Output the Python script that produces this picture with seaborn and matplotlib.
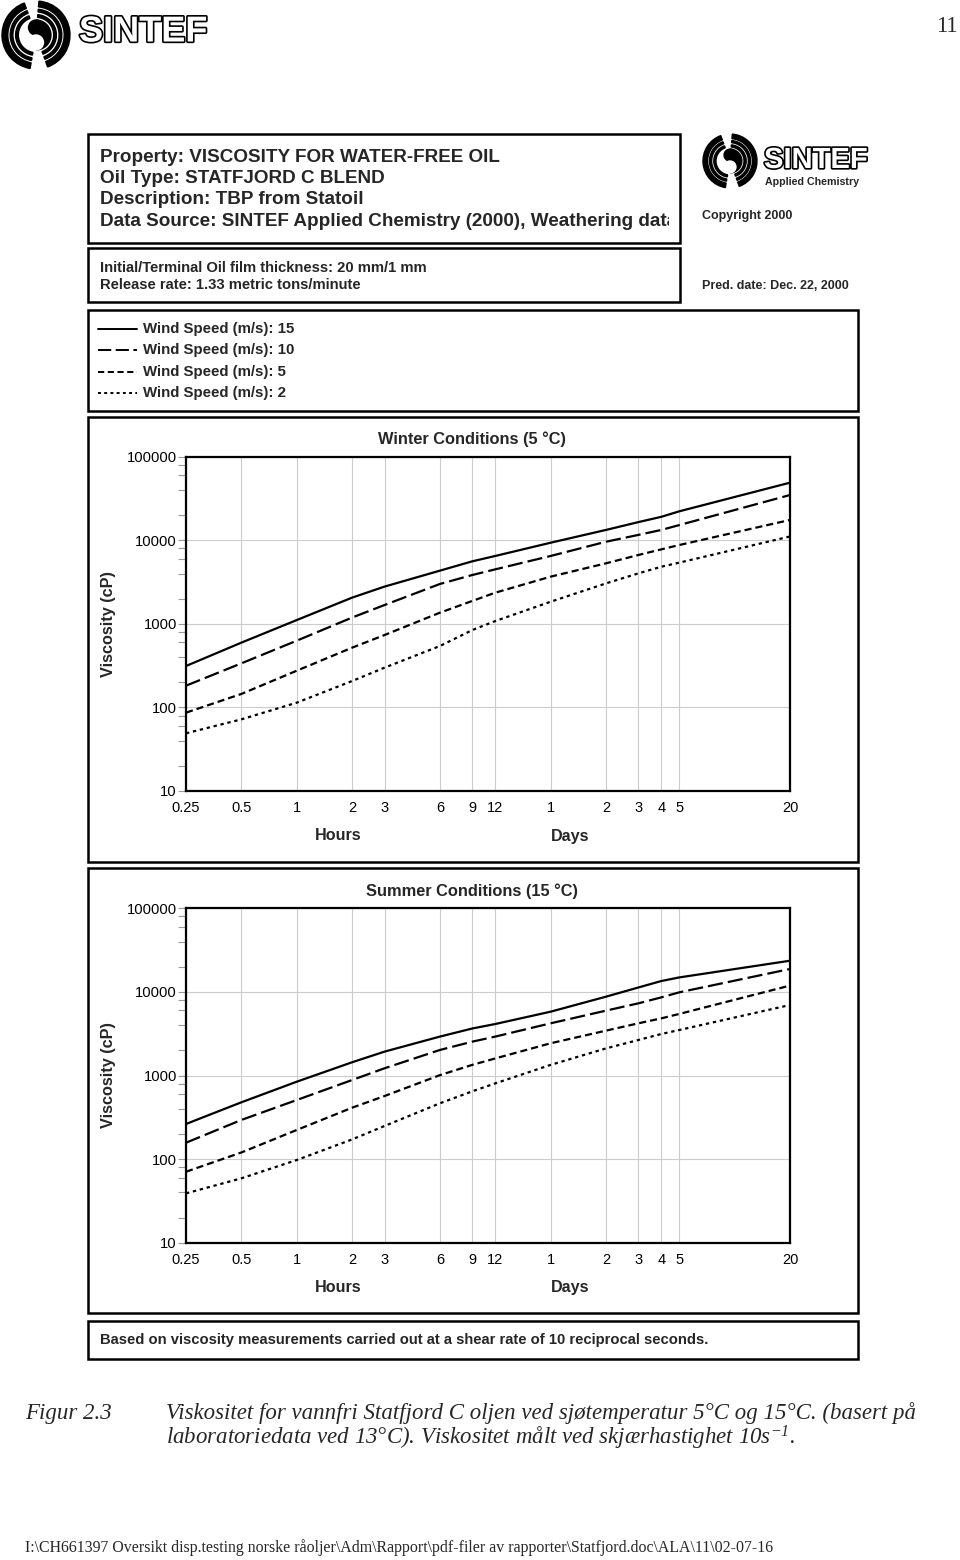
import matplotlib
matplotlib.use("Agg")
import matplotlib.pyplot as plt
import matplotlib.patheffects as pe
import pandas as pd
import seaborn as sns
from matplotlib import font_manager
from matplotlib.lines import Line2D
from matplotlib.patches import Rectangle, Wedge, Circle
from matplotlib.ticker import NullLocator, NullFormatter

# time axis (hours) and the tick labels used on it (hours, then days)
hours = [0.25, 0.5, 1, 2, 3, 6, 9, 12, 24, 48, 72, 96, 120, 480]
tick_hours = [0.25, 0.5, 1, 2, 3, 6, 9, 12, 24, 48, 72, 96, 120, 480]
tick_labels = ["0.25", "0.5", "1", "2", "3", "6", "9", "12", "1", "2", "3", "4", "5", "20"]
wind_speeds = [15, 10, 5, 2]

# viscosity (cP), winter 5 C
winter_15 = [313, 596, 1110, 2060, 2790, 4330, 5600, 6490, 9350, 13300, 16500, 19100, 22200, 48900]
winter_10 = [182, 337, 629, 1190, 1680, 3000, 3840, 4490, 6490, 9610, 11600, 13300, 15200, 34800]
winter_5 = [86.5, 145, 275, 519, 735, 1360, 1880, 2360, 3670, 5300, 6670, 7790, 8770, 17500]
winter_2 = [49, 72, 114, 207, 299, 543, 843, 1080, 1840, 3050, 4020, 4830, 5400, 11100]

# viscosity (cP), summer 15 C
summer_15 = [263, 478, 843, 1440, 1930, 2920, 3650, 4130, 5800, 8770, 11300, 13500, 14900, 23600]
summer_10 = [157, 294, 509, 883, 1220, 2020, 2540, 2920, 4210, 5970, 7300, 8610, 9880, 18800]
summer_5 = [70.6, 120, 223, 412, 568, 1010, 1340, 1600, 2430, 3440, 4210, 4830, 5450, 11900]
summer_2 = [38.9, 58.9, 97.5, 172, 249, 465, 647, 805, 1340, 2110, 2660, 3140, 3500, 6970]

header_lines = [
    "Property: VISCOSITY FOR WATER-FREE OIL",
    "Oil Type: STATFJORD C BLEND",
    "Description: TBP from Statoil",
    "Data Source: SINTEF Applied Chemistry (2000), Weathering data",
]

sns.set_theme(style="white")
plt.rcParams["font.family"] = ["Liberation Sans", "DejaVu Sans"]
plt.rcParams["mathtext.fontset"] = "custom"
plt.rcParams["mathtext.it"] = "Liberation Serif:italic"
plt.rcParams["mathtext.rm"] = "Liberation Serif:italic"

installed = {f.name for f in font_manager.fontManager.ttflist}
narrow = "Liberation Sans Narrow" in installed
logo_family = ["Liberation Sans Narrow"] if narrow else ["Liberation Sans"]

W, H = 960, 1560
fig = plt.figure(figsize=(W / 100, H / 100), dpi=100)
fig.patch.set_facecolor("white")

# a full-page axes in pixel units for boxes, logos and free text
page = fig.add_axes([0, 0, 1, 1])
page.set_xlim(0, W)
page.set_ylim(H, 0)
page.axis("off")

serif = ["Liberation Serif", "DejaVu Serif"]
dash_styles = {15: "", 10: (6.8, 2.3), 5: (3.2, 1.8), 2: (1.5, 1.7)}


def box(x0, y0, x1, y1):
    page.add_patch(Rectangle((x0, y0), x1 - x0, y1 - y0, fill=False, ec="black", lw=1.8, zorder=5))


def draw_logo(cx, cy, r):
    for r_out, w in [(1.0, 0.17), (0.76, 0.08), (0.6, 0.08)]:
        page.add_patch(Wedge((cx, cy), r * r_out, 100, 250, width=r * w, color="black"))
        page.add_patch(Wedge((cx, cy), r * r_out, 275, 70, width=r * w, color="black"))
    page.add_patch(Wedge((cx, cy), r * 0.44, -90, 90, color="black"))
    page.add_patch(Circle((cx, cy - r * 0.22), r * 0.22, color="black"))
    page.add_patch(Circle((cx, cy + r * 0.22), r * 0.22, color="white"))


def logo_text(x, y, size):
    page.text(x, y, "SINTEF", fontsize=size, fontweight="bold", family=logo_family,
              color="white", va="center",
              path_effects=[pe.withStroke(linewidth=2.4, foreground="black")])


# page header
draw_logo(36, 35, 34)
logo_text(79, 32, 31 if narrow else 26)
page.text(958, 27, "11", family=serif, fontsize=16.5, ha="right", va="center")

# boxes
box(88, 134, 680, 243)
box(88, 248, 680, 302)
box(88, 310, 858, 411)
box(88, 417, 858, 862)
box(88, 868, 858, 1313)
box(88, 1321, 858, 1359)

# the last header line runs past the box and is cut off there
clip_rect = Rectangle((88, 134), 669 - 88, 243 - 134, transform=page.transData)
for i, line in enumerate(header_lines):
    t = page.text(100, 157 + i * 21.4, line, fontsize=13.55, fontweight="bold",
                  va="center", clip_on=True)
    t.set_clip_path(clip_rect)

page.text(100, 268, "Initial/Terminal Oil film thickness: 20 mm/1 mm",
          fontsize=10.6, fontweight="bold", va="center")
page.text(100, 285, "Release rate: 1.33 metric tons/minute",
          fontsize=10.6, fontweight="bold", va="center")

draw_logo(730, 161, 27)
logo_text(764, 160, 25 if narrow else 21)
page.text(765, 182, "Applied Chemistry", fontsize=7.7, fontweight="bold", va="center")
page.text(702, 216, "Copyright 2000", fontsize=9, fontweight="bold", va="center")
page.text(702, 286, "Pred. date: Dec. 22, 2000", fontsize=9, fontweight="bold", va="center")

# legend
for i, ws in enumerate(wind_speeds):
    y = 329 + i * 21.3
    ln = Line2D([98, 137], [y, y], color="black", lw=1.4)
    if dash_styles[ws]:
        ln.set_dashes(dash_styles[ws])
    page.add_line(ln)
    page.text(143, y, f"Wind Speed (m/s): {ws}", fontsize=10.8, fontweight="bold", va="center")


def panel(top, bottom, title, series):
    ax = fig.add_axes([186 / W, 1 - bottom / H, (790 - 186) / W, (bottom - top) / H])
    df = pd.concat([pd.DataFrame({"hours": hours, "viscosity": v, "wind": ws})
                    for ws, v in zip(wind_speeds, series)])
    sns.lineplot(data=df, x="hours", y="viscosity", style="wind", style_order=wind_speeds,
                 dashes=dash_styles, color="black", lw=1.6, errorbar=None,
                 legend=False, ax=ax)
    ax.set_xscale("log")
    ax.set_yscale("log")
    ax.set_xlim(0.25, 480)
    ax.set_ylim(10, 100000)
    ax.set_xticks(tick_hours)
    ax.set_xticklabels(tick_labels)
    ax.xaxis.set_minor_locator(NullLocator())
    ax.set_yticks([10, 100, 1000, 10000, 100000])
    ax.set_yticklabels(["10", "100", "1000", "10000", "100000"])
    ax.set_yticks([m * 10 ** k for k in range(1, 5) for m in (2, 4, 6, 8)], minor=True)
    ax.yaxis.set_minor_formatter(NullFormatter())
    ax.tick_params(axis="y", which="both", left=True, direction="out", length=5.5,
                   width=0.8, color="#9a9a9a", pad=1, labelsize=10.6, labelcolor="black")
    ax.tick_params(axis="x", which="both", bottom=True, length=0, pad=7.5,
                   labelsize=10.5, labelcolor="black")
    ax.grid(True, which="major", color="#cccccc", lw=0.8)
    ax.set_axisbelow(True)
    for s in ax.spines.values():
        s.set_visible(True)
        s.set_color("black")
        s.set_linewidth(1.6)
    ax.set_xlabel("")
    ax.set_ylabel("")

    mid = (top + bottom) / 2
    page.text(472, top - 17, title, fontsize=11.8, fontweight="bold", ha="center", va="center")
    page.text(108, mid, "Viscosity (cP)", fontsize=11.7, fontweight="bold", rotation=90,
              ha="center", va="center")
    page.text(338, bottom + 45, "Hours", fontsize=11.6, fontweight="bold", ha="center", va="center")
    page.text(570, bottom + 45, "Days", fontsize=11.6, fontweight="bold", ha="center", va="center")
    return ax


panel(456.7, 791, "Winter Conditions (5 \u00b0C)", [winter_15, winter_10, winter_5, winter_2])
panel(908.3, 1242.7, "Summer Conditions (15 \u00b0C)", [summer_15, summer_10, summer_5, summer_2])

page.text(100, 1340, "Based on viscosity measurements carried out at a shear rate of 10 reciprocal seconds.",
          fontsize=10.6, fontweight="bold", va="center")

# caption below the chart
page.text(25, 1419, "Figur 2.3", family=serif, style="italic", fontsize=16.5, va="baseline")
page.text(166, 1419, "Viskositet for vannfri Statfjord C oljen ved sjøtemperatur 5°C og 15°C. (basert på",
          family=serif, style="italic", fontsize=16.5, va="baseline")
page.text(166, 1445, "laboratoriedata ved 13°C). Viskositet målt ved skjærhastighet 10s$^{-1}$.",
          family=serif, style="italic", fontsize=16.5, va="baseline")
page.text(25, 1548,
          r"I:\CH661397 Oversikt disp.testing norske råoljer\Adm\Rapport\pdf-filer av rapporter\Statfjord.doc\ALA\11\02-07-16",
          family=serif, fontsize=11.4, va="center")

fig.savefig("out.png", dpi=100, facecolor="white")
